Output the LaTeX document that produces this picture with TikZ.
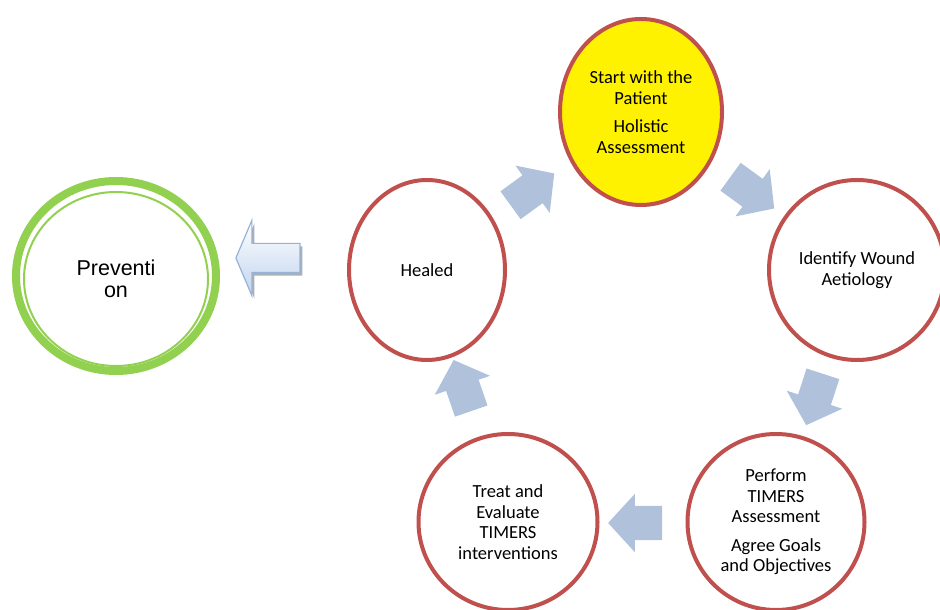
\documentclass[tikz,border=0pt]{standalone}
\usepackage{fontspec}
\newfontfamily\cyclefont{Carlito}
\newfontfamily\arialfont{Liberation Sans}
\usetikzlibrary{shapes.geometric, shapes.arrows, shadows}
\definecolor{ringred}{HTML}{C0504D}
\definecolor{leafgreen}{HTML}{92D050}
\definecolor{flowblue}{HTML}{B0C1DC}
\definecolor{shaftedge}{HTML}{95B3D7}
\definecolor{shaftfill}{HTML}{C0D4EE}
\begin{document}
\begin{tikzpicture}[x=1pt, y=1pt,
        etapa/.style={ellipse, draw=ringred, line width=4pt, fill=white, align=center, inner sep=0pt,
            font=\cyclefont\fontsize{18.5}{20.5}\selectfont},
        bloque/.style={single arrow, fill=flowblue, draw=none, inner xsep=0pt, inner ysep=17pt,
            single arrow head extend=12pt, single arrow tip angle=95, minimum height=54pt}]
        \useasboundingbox (0,0) rectangle (940,610);
        \clip (0,0) rectangle (940,610);
        % cycle
        \node[etapa, fill=yellow, minimum width=162pt, minimum height=186pt] (start) at (641,498) {Start with the\\Patient\\[8pt]Holistic\\Assessment};
        \node[etapa, minimum width=176pt, minimum height=180pt] (aetio) at (857,340) {Identify Wound\\Aetiology};
        \node[etapa, minimum width=177pt, minimum height=176pt] (timers) at (776,88) {Perform\\TIMERS\\Assessment\\[8pt]Agree Goals\\and Objectives};
        \node[etapa, minimum width=179pt, minimum height=176pt] (treat) at (508,88) {Treat and\\Evaluate\\TIMERS\\interventions};
        \node[etapa, minimum width=156pt, minimum height=180pt] (healed) at (427,340) {Healed};
        % block arrows between stages
        \node[bloque, rotate=36] (h2s) at (526,416) {};
        \node[bloque, rotate=-36] (s2a) at (746,422) {};
        \node[bloque, rotate=-108] (a2p) at (817,218) {};
        \node[bloque, rotate=180] (p2t) at (643,87) {};
        \node[bloque, rotate=109] (t2h) at (465,217) {};
        % prevention
        \node[ellipse, draw=leafgreen, line width=8pt, minimum width=200pt, minimum height=190pt] (prevout) at (116,334) {};
        \node[ellipse, draw=leafgreen, line width=2pt, minimum width=184pt, minimum height=174pt, align=center,
            font=\arialfont\fontsize{21.5}{22.5}\selectfont] (prev) at (116,331) {Preventi\\on};
        \node[single arrow, draw=shaftedge, line width=1.2pt, top color=white, bottom color=shaftfill,
            inner xsep=0pt, inner ysep=14pt, single arrow head extend=23pt, single arrow tip angle=134,
            minimum height=64pt, shape border rotate=180,
            drop shadow={shadow xshift=2.5pt, shadow yshift=-3pt, fill=gray!70!shaftedge, opacity=0.7}] (h2p) at (271,352) {};
    \end{tikzpicture}
\end{document}
